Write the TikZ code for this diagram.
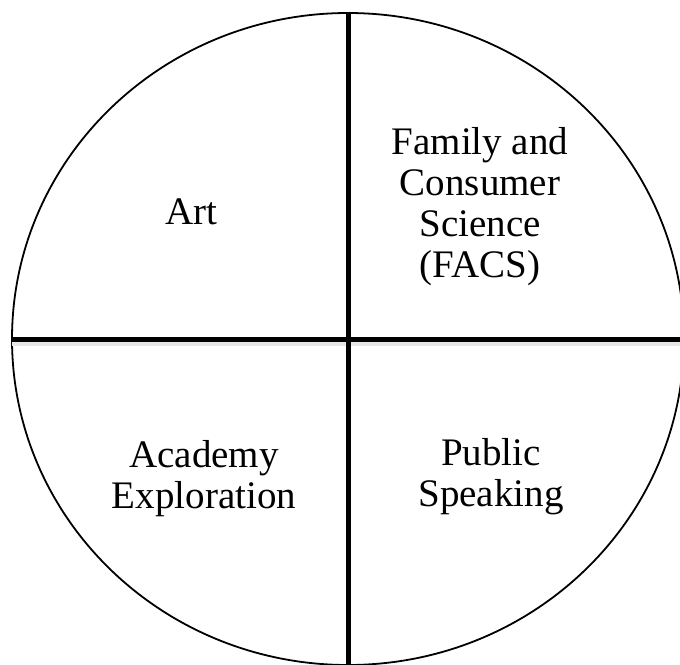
\documentclass[tikz,border=0pt]{standalone}
\usepackage{fontspec}
\setmainfont{Liberation Serif}
\begin{document}
\begin{tikzpicture}[x=1pt,y=-1pt,
  divider/.style={line width=5pt,black},
  rim/.style={line width=1.8pt,black},
  label/.style={align=center,inner sep=0pt,font=\fontsize{39}{41}\selectfont}]
\useasboundingbox (0,0) rectangle (680,664);
\begin{scope}
\clip (0,0) rectangle (680,664);
\draw[rim] (348,339) ellipse [x radius=336, y radius=326];
\coordinate (top) at (348,13);
\coordinate (bottom) at (348,670);
\coordinate (left) at (12,339);
\coordinate (right) at (686,339);
\draw[divider,gray!20] ([yshift=-4]left) -- ([yshift=-4]right);
\draw[divider] (left) -- (right);
\draw[divider] (top) -- (bottom);
\end{scope}
\node[label] (art) at (191,212) {Art};
\node[label] (facs) at (480,207) {Family and\\Consumer\\Science\\(FACS)};
\node[label] (acad) at (204,479) {Academy\\Exploration};
\node[label] (pub) at (491,477) {Public\\Speaking};
\end{tikzpicture}
\end{document}
